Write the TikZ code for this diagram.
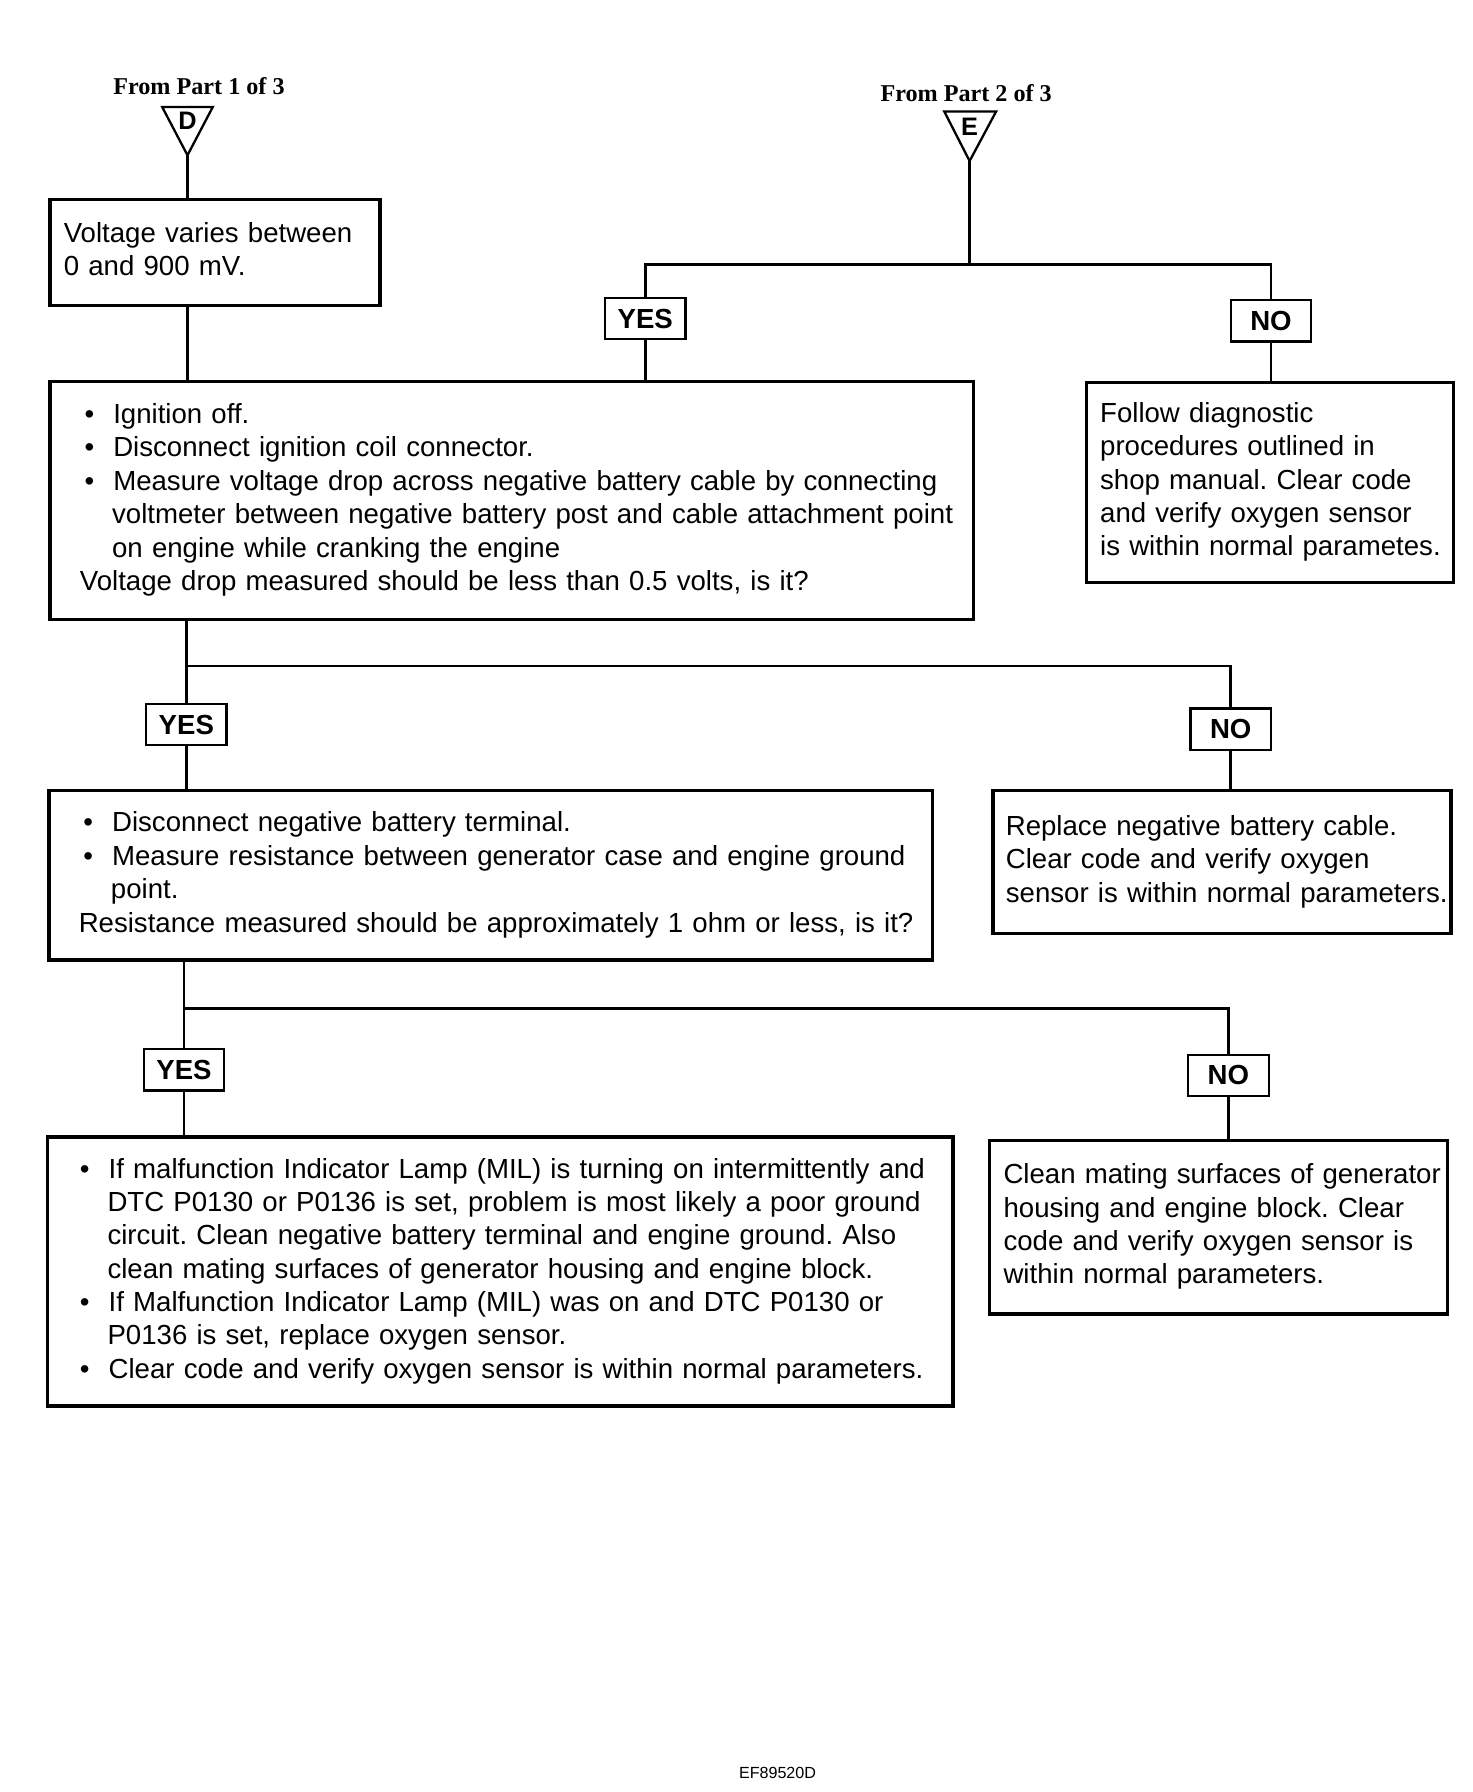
\documentclass[tikz,border=0pt]{standalone}
\usepackage{fontspec}
\setmainfont{Liberation Sans}
\newfontfamily\headfont{Liberation Serif}
\frenchspacing
\tikzset{
  stepbox/.style={draw, line width=1.5pt, anchor=north west, inner xsep=6pt, inner ysep=0pt,
    font=\fontsize{12}{14.5}\selectfont},
  answer/.style={draw, line width=1pt, minimum width=35pt, minimum height=18pt, inner sep=0pt, font=\bfseries\fontsize{12}{14}\selectfont},
  wire/.style={line width=1.2pt},
  tri/.style={draw, line width=1pt},
  heading/.style={font=\headfont\bfseries\fontsize{10.5}{12}\selectfont},
  letter/.style={font=\bfseries\fontsize{11}{12}\selectfont, inner sep=0pt}
}
\newcommand{\boxlines}[1]{\begin{tabular}{@{}l@{}}#1\end{tabular}}
\newcommand{\bitem}{\hspace*{2pt}\makebox[12.5pt][l]{\textbullet}}
\newcommand{\bcont}{\hspace*{14pt}}
\begin{document}
\begin{tikzpicture}[x=0.5pt, y=-0.5pt]
  \useasboundingbox (0,0) rectangle (1280,1558);

  \node[heading] (fromD) at (173,75) {From Part 1 of 3};
  \draw[tri] (141,93) -- (185,93) -- (163,135) -- cycle;
  \coordinate (dTip) at (163,135);
  \node[letter] (dLetter) at (163,105) {D};

  \node[heading] (fromE) at (840,81) {From Part 2 of 3};
  \draw[tri] (821,97) -- (866,97) -- (843,140) -- cycle;
  \coordinate (eTip) at (843,140);
  \node[letter] (eLetter) at (843,110) {E};

  \node[stepbox, text width=131.5pt, minimum height=46pt] (volt) at (42,172)
    {\boxlines{Voltage varies between\\0 and 900 mV.}};

  \node[stepbox, inner xsep=13pt, text width=375.5pt, minimum height=103.5pt] (cable) at (42,330)
    {\boxlines{\bitem Ignition off.\\
     \bitem Disconnect ignition coil connector.\\
     \bitem Measure voltage drop across negative battery cable by connecting\\
     \bcont voltmeter between negative battery post and cable attachment point\\
     \bcont on engine while cranking the engine\\
     Voltage drop measured should be less than 0.5 volts, is it?}};

  \node[stepbox, text width=147.5pt, minimum height=87pt] (follow) at (943,331)
    {\boxlines{Follow diagnostic\\procedures outlined in\\shop manual. Clear code\\and verify oxygen sensor\\is within normal parametes.}};

  \node[stepbox, inner xsep=13pt, text width=358pt, minimum height=73.5pt] (ground) at (41,686)
    {\boxlines{\bitem Disconnect negative battery terminal.\\
     \bitem Measure resistance between generator case and engine ground\\
     \bcont point.\\
     Resistance measured should be approximately 1 ohm or less, is it?}};

  \node[stepbox, inner xsep=5.5pt, text width=188pt, minimum height=62pt] (replace) at (862,686)
    {\boxlines{Replace negative battery cable.\\Clear code and verify oxygen\\sensor is within normal parameters.}};

  \node[stepbox, inner xsep=12pt, text width=369.5pt, minimum height=117pt] (lamp) at (40,987)
    {\boxlines{\bitem If malfunction Indicator Lamp (MIL) is turning on intermittently and\\
     \bcont DTC P0130 or P0136 is set, problem is most likely a poor ground\\
     \bcont circuit. Clean negative battery terminal and engine ground. Also\\
     \bcont clean mating surfaces of generator housing and engine block.\\
     \bitem If Malfunction Indicator Lamp (MIL) was on and DTC P0130 or\\
     \bcont P0136 is set, replace oxygen sensor.\\
     \bitem Clear code and verify oxygen sensor is within normal parameters.}};

  \node[stepbox, text width=187pt, minimum height=75.5pt] (clean) at (859,990)
    {\boxlines{Clean mating surfaces of generator\\housing and engine block. Clear\\code and verify oxygen sensor is\\within normal parameters.}};

  \node[answer] (yesA) at (561,277) {YES};
  \node[answer] (noA) at (1105,279) {NO};
  \node[answer] (yesB) at (162,630) {YES};
  \node[answer] (noB) at (1070,634) {NO};
  \node[answer] (yesC) at (160,930) {YES};
  \node[answer] (noC) at (1068,935) {NO};

  \coordinate (jA) at (843,230);
  \coordinate (jB) at (162,579);
  \coordinate (jC) at (160,877);

  \draw[wire] (dTip) -- (dTip |- volt.north);
  \draw[wire] (dTip |- volt.south) -- (dTip |- cable.north);
  \draw[wire] (eTip) -- (jA);
  \draw[wire] (yesA.north) |- (jA) -| (noA.north);
  \draw[wire] (yesA.south) -- (yesA.south |- cable.north);
  \draw[wire] (noA.south) -- (noA.south |- follow.north);

  \draw[wire] (jB |- cable.south) -- (jB);
  \draw[wire] (yesB.north) |- (jB) -| (noB.north);
  \draw[wire] (yesB.south) -- (yesB.south |- ground.north);
  \draw[wire] (noB.south) -- (noB.south |- replace.north);

  \draw[wire] (jC |- ground.south) -- (jC);
  \draw[wire] (yesC.north) |- (jC) -| (noC.north);
  \draw[wire] (yesC.south) -- (yesC.south |- lamp.north);
  \draw[wire] (noC.south) -- (noC.south |- clean.north);

  \node[font=\fontsize{7}{8}\selectfont] (figcode) at (676,1541) {EF89520D};
\end{tikzpicture}
\end{document}
